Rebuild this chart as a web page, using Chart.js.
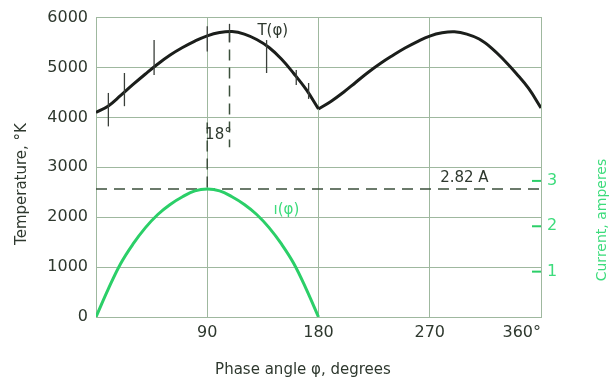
<!DOCTYPE html>
<html>
<head>
<meta charset="utf-8">
<script src="https://cdn.jsdelivr.net/npm/chart.js@4"></script>
<style>
    body { margin: 0; background: #fff; }
    #wrap { width: 614px; height: 381px; position: relative; }
</style>
</head>
<body>
<div id="wrap"><canvas id="chart"></canvas></div>
<script>
// Temperature T(phi) over a full cycle, degrees -> kelvin
const phaseDeg = [0, 10, 20, 30, 40, 50, 60, 70, 80, 90, 100, 110, 120, 130, 140, 150, 160, 170, 180,
    190, 200, 210, 220, 230, 240, 250, 260, 270, 280, 290, 300, 310, 320, 330, 340, 350, 360];
const tempK = [4100, 4230, 4440, 4660, 4870, 5070, 5250, 5400, 5530, 5635, 5700, 5720, 5670, 5560, 5400, 5170, 4880, 4560, 4170,
    4320, 4500, 4700, 4900, 5080, 5240, 5390, 5520, 5630, 5695, 5715, 5670, 5570, 5390, 5150, 4880, 4580, 4190];

// Current i(phi), first half cycle only, amperes
const currentPhase = [0, 10, 20, 30, 40, 50, 60, 70, 80, 90, 100, 110, 120, 130, 140, 150, 160, 170, 180];
const currentA = [0, 0.62, 1.18, 1.61, 1.97, 2.26, 2.48, 2.65, 2.78, 2.82, 2.78, 2.65, 2.48, 2.26, 1.97, 1.61, 1.18, 0.62, 0];

// Measured temperatures with their spread
const errPhase = [10, 23, 47, 90, 108, 138, 162, 172];
const errLow = [3820, 4225, 4850, 5320, 5515, 4890, 4650, 4370];
const errHigh = [4490, 4890, 5550, 5825, 5875, 5550, 4950, 4690];

const phaseTicks = [90, 180, 270, 360];
const tempTicks = [0, 1000, 2000, 3000, 4000, 5000, 6000];
const currentTicks = [1, 2, 3];

const PEAK_CURRENT = 2.82;
const PEAK_SHIFT = 18;
const PEAK_TEMP = 5720;

const INK = '#2e382e';
const GREEN = '#2bcf68';
const GREEN_TEXT = '#3ddc7c';
const GRID = '#9fb89f';
const FONT = 'DejaVu Sans';

// the temperature curve has a cusp at 180 deg, so each half is its own line
const HALF = phaseDeg.indexOf(180);
const toPoints = (xs, ys) => xs.map((p, i) => ({x: p, y: ys[i]}));

const notes = {
    id: 'notes',
    beforeDatasetsDraw(chart) {
        const ctx = chart.ctx;
        const {x, y, y1} = chart.scales;
        const area = chart.chartArea;
        ctx.save();
        ctx.strokeStyle = '#3b4f3b';
        ctx.lineWidth = 1.5;
        ctx.setLineDash([11, 7]);
        // current peak level across the plot
        const yPeak = y1.getPixelForValue(PEAK_CURRENT);
        ctx.beginPath();
        ctx.moveTo(area.left, yPeak);
        ctx.lineTo(area.right, yPeak);
        ctx.stroke();
        // current maximum at 90 deg
        ctx.beginPath();
        ctx.moveTo(x.getPixelForValue(90), y.getPixelForValue(3900));
        ctx.lineTo(x.getPixelForValue(90), yPeak);
        ctx.stroke();
        // temperature maximum, shifted by 18 deg
        const xs = x.getPixelForValue(90 + PEAK_SHIFT);
        ctx.beginPath();
        ctx.moveTo(xs, y.getPixelForValue(PEAK_TEMP));
        ctx.lineTo(xs, y.getPixelForValue(3400));
        ctx.stroke();
        ctx.setLineDash([]);

        // green ticks on the current axis
        ctx.strokeStyle = GREEN;
        ctx.lineWidth = 2;
        currentTicks.forEach((v) => {
            const py = y1.getPixelForValue(v);
            ctx.beginPath();
            ctx.moveTo(area.right - 9, py);
            ctx.lineTo(area.right, py);
            ctx.stroke();
        });
        ctx.restore();
    },
    afterDatasetsDraw(chart) {
        const ctx = chart.ctx;
        const {x, y, y1} = chart.scales;
        ctx.save();
        ctx.strokeStyle = '#3a3f3a';
        ctx.lineWidth = 1.3;
        errPhase.forEach((p, i) => {
            const px = x.getPixelForValue(p);
            ctx.beginPath();
            ctx.moveTo(px, y.getPixelForValue(errLow[i]));
            ctx.lineTo(px, y.getPixelForValue(errHigh[i]));
            ctx.stroke();
        });

        ctx.textAlign = 'center';
        ctx.textBaseline = 'middle';
        ctx.fillStyle = INK;
        ctx.font = `15px "${FONT}"`;
        ctx.fillText('T(φ)', x.getPixelForValue(143), y.getPixelForValue(5730));
        ctx.fillText('18°', x.getPixelForValue(99), y.getPixelForValue(3640));
        ctx.fillText('2.82 A', x.getPixelForValue(298), y1.getPixelForValue(PEAK_CURRENT) - 11);
        ctx.fillStyle = GREEN_TEXT;
        ctx.fillText('ı(φ)', x.getPixelForValue(154), y1.getPixelForValue(2.35));

        // axis titles
        ctx.fillStyle = INK;
        ctx.fillText('Phase angle φ, degrees', 303, 370);
        ctx.save();
        ctx.translate(22, 184);
        ctx.rotate(-Math.PI / 2);
        ctx.fillText('Temperature, °K', 0, 0);
        ctx.restore();
        ctx.save();
        ctx.fillStyle = GREEN_TEXT;
        ctx.font = `14px "${FONT}"`;
        ctx.translate(602, 220);
        ctx.rotate(-Math.PI / 2);
        ctx.fillText('Current, amperes', 0, 0);
        ctx.restore();
        ctx.restore();
    }
};

const tempLine = {
    borderColor: '#1b1e1b',
    borderWidth: 3,
    pointRadius: 0,
    tension: 0.4,
    yAxisID: 'y',
};

new Chart(document.getElementById('chart'), {
    type: 'line',
    data: {
        datasets: [{
            ...tempLine,
            label: 'T(φ)',
            data: toPoints(phaseDeg.slice(0, HALF + 1), tempK.slice(0, HALF + 1)),
        }, {
            ...tempLine,
            label: 'T(φ) second half',
            data: toPoints(phaseDeg.slice(HALF), tempK.slice(HALF)),
        }, {
            label: 'i(φ)',
            data: toPoints(currentPhase, currentA),
            borderColor: GREEN,
            borderWidth: 3,
            pointRadius: 0,
            tension: 0.4,
            yAxisID: 'y1',
        }]
    },
    options: {
        responsive: true,
        maintainAspectRatio: false,
        animation: false,
        layout: {padding: {top: 8}},
        plugins: {legend: {display: false}, tooltip: {enabled: false}},
        scales: {
            x: {
                type: 'linear',
                min: 0,
                max: 360,
                afterBuildTicks: (s) => { s.ticks = [0].concat(phaseTicks).map((v) => ({value: v})); },
                afterFit: (s) => { s.height = 64; },
                ticks: {
                    align: 'inner',
                    padding: 6,
                    color: INK,
                    font: {family: FONT, size: 16},
                    callback: (v) => v === 0 ? '' : (v === 360 ? '360°' : String(v)),
                },
                grid: {color: GRID, drawTicks: false},
                border: {color: GRID},
            },
            y: {
                min: 0,
                max: 6000,
                afterBuildTicks: (s) => { s.ticks = tempTicks.map((v) => ({value: v})); },
                afterFit: (s) => { s.width = 96; },
                ticks: {padding: 8, color: INK, font: {family: FONT, size: 16}, callback: (v) => String(v)},
                grid: {color: GRID, drawTicks: false},
                border: {color: GRID},
            },
            y1: {
                position: 'right',
                min: 0,
                max: 6.6,
                afterBuildTicks: (s) => { s.ticks = currentTicks.map((v) => ({value: v})); },
                afterFit: (s) => { s.width = 73; },
                ticks: {padding: 6, color: GREEN_TEXT, font: {family: FONT, size: 16}},
                grid: {drawOnChartArea: false, drawTicks: false},
                border: {color: GRID},
            },
        },
    },
    plugins: [notes],
});
</script>
</body>
</html>
